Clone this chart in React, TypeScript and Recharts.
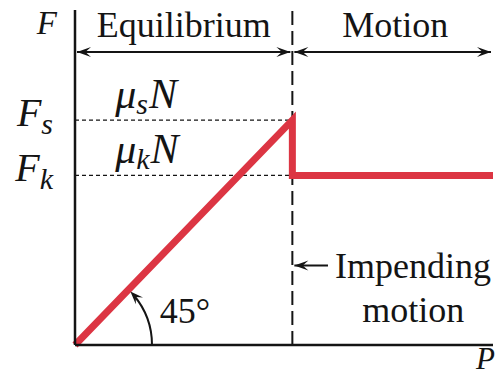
import { LineChart, Line, XAxis, YAxis, ReferenceLine, ReferenceDot } from "recharts";

// friction force F against applied force P
const P_IMPENDING = 5.2;
const F_STATIC = 5.37;
const F_KINETIC = 4.05;
const P_MAX = 10;

const pValues = [0, P_IMPENDING, P_IMPENDING, P_MAX];
const fValues = [0, F_STATIC, F_KINETIC, F_KINETIC];

const levelTicks = [F_KINETIC, F_STATIC];
const levelSubs = ["k", "s"];
const levelCoefs = ["k", "s"];

const data = pValues.map((p, i) => ({ p, f: fValues[i] }));

const SERIF = "Liberation Serif, DejaVu Serif, serif";
const INK = "#141414";
const RED = "#dc3543";

function head(tx: number, ty: number, angle: number, len = 14, half = 5) {
  const c = Math.cos(angle);
  const s = Math.sin(angle);
  const bx = tx - c * len;
  const by = ty - s * len;
  const mx = tx - c * len * 0.6;
  const my = ty - s * len * 0.6;
  return `M${tx},${ty} L${bx - s * half},${by + c * half} L${mx},${my} L${bx + s * half},${by - c * half} Z`;
}

function ArrowShape(props: any) {
  const { x1, y1, x2, y2, startHead, endHead } = props;
  const ang = Math.atan2(y2 - y1, x2 - x1);
  const ax = x1 + Math.cos(ang) * 2;
  const bx = x2 - Math.cos(ang) * 2;
  return (
    <g>
      <line x1={ax} y1={y1} x2={bx} y2={y2} stroke={INK} strokeWidth={2} />
      {startHead && <path d={head(ax, y1, ang + Math.PI)} fill={INK} />}
      {endHead && <path d={head(bx, y2, ang)} fill={INK} />}
    </g>
  );
}

function TextAt(text: string, anchor: "start" | "middle" | "end" = "middle") {
  return (p: any) => (
    <text x={p.cx} y={p.cy} textAnchor={anchor} style={{ fontFamily: SERIF }} fontSize={36} fill={INK}>
      {text}
    </text>
  );
}

function CoefLabel(sub: string) {
  return (p: any) => (
    <text x={p.cx} y={p.cy} style={{ fontFamily: SERIF }} fontStyle="italic" fontSize={42} fill={INK}>
      <tspan>μ</tspan>
      <tspan dy={6} fontSize={30}>{sub}</tspan>
      <tspan dy={-6} dx={1}>N</tspan>
    </text>
  );
}

function AngleArc(p: any) {
  const r = 77;
  const { cx, cy } = p;
  const end = (40 * Math.PI) / 180;
  const tipA = (44 * Math.PI) / 180;
  const ex = cx + r * Math.cos(end);
  const ey = cy - r * Math.sin(end);
  const tx = cx + r * Math.cos(tipA);
  const ty = cy - r * Math.sin(tipA);
  const dir = Math.atan2(-Math.cos(tipA), -Math.sin(tipA));
  return (
    <g>
      <path d={`M${cx + r},${cy} A${r},${r} 0 0 0 ${ex},${ey}`} fill="none" stroke={INK} strokeWidth={2} />
      <path d={head(tx, ty, dir, 13, 5)} fill={INK} />
    </g>
  );
}

function LevelTick(props: any) {
  const { x, y, payload } = props;
  const i = levelTicks.indexOf(payload.value);
  return (
    <text x={x - 14} y={y + 6} textAnchor="end" style={{ fontFamily: SERIF }} fontStyle="italic" fontSize={40} fill={INK}>
      <tspan>F</tspan>
      <tspan dy={8} fontSize={30}>{levelSubs[i]}</tspan>
    </text>
  );
}

export default function App() {
  return (
    <div style={{ position: "absolute", left: 0, top: 0, background: "#fff" }}>
      <LineChart width={500} height={375} data={data} margin={{ top: 10, right: 7, bottom: 0, left: 0 }}>
        <XAxis
          type="number"
          dataKey="p"
          domain={[0, P_MAX]}
          height={30}
          tick={false}
          tickLine={false}
          axisLine={{ stroke: INK, strokeWidth: 2.5 }}
          label={{
            content: ({ viewBox }: any) => (
              <text x={viewBox.x + viewBox.width + 2} y={viewBox.y + 24} textAnchor="end" style={{ fontFamily: SERIF }} fontStyle="italic" fontSize={31} fill={INK}>
                P
              </text>
            ),
          }}
        />
        <YAxis
          type="number"
          domain={[0, 8]}
          width={75}
          ticks={levelTicks}
          tick={<LevelTick />}
          tickLine={false}
          axisLine={{ stroke: INK, strokeWidth: 2.5 }}
          label={{
            content: ({ viewBox }: any) => (
              <text x={viewBox.x + viewBox.width - 18} y={viewBox.y + 24} textAnchor="end" style={{ fontFamily: SERIF }} fontStyle="italic" fontSize={33} fill={INK}>
                F
              </text>
            ),
          }}
        />
        {levelTicks.map((v) => (
          <ReferenceLine
            key={v}
            segment={[{ x: 0, y: v }, { x: P_IMPENDING, y: v }]}
            stroke={INK}
            strokeWidth={1.3}
            strokeDasharray="4 3"
          />
        ))}
        <ReferenceLine x={P_IMPENDING} stroke={INK} strokeWidth={2} strokeDasharray="14 6" />
        <ReferenceLine segment={[{ x: 0, y: 7 }, { x: P_IMPENDING, y: 7 }]} shape={(p: any) => <ArrowShape {...p} startHead endHead />} />
        <ReferenceLine segment={[{ x: P_IMPENDING, y: 7 }, { x: P_MAX, y: 7 }]} shape={(p: any) => <ArrowShape {...p} startHead endHead />} />
        <ReferenceLine segment={[{ x: P_IMPENDING, y: 1.9 }, { x: 6.1, y: 1.9 }]} shape={(p: any) => <ArrowShape {...p} startHead />} />
        <ReferenceDot x={2.6} y={7.36} ifOverflow="visible" shape={TextAt("Equilibrium")} />
        <ReferenceDot x={7.66} y={7.36} ifOverflow="visible" shape={TextAt("Motion")} />
        <ReferenceDot x={6.22} y={1.6} ifOverflow="visible" shape={TextAt("Impending", "start")} />
        <ReferenceDot x={8.09} y={0.55} ifOverflow="visible" shape={TextAt("motion")} />
        <ReferenceDot x={2.03} y={0.53} ifOverflow="visible" shape={TextAt("45°", "start")} />
        {levelTicks.map((v, i) => (
          <ReferenceDot key={"c" + v} x={0.96} y={v + 0.3} ifOverflow="visible" shape={CoefLabel(levelCoefs[i])} />
        ))}
        <ReferenceDot x={0} y={0} ifOverflow="visible" shape={AngleArc} />
        <Line
          type="linear"
          dataKey="f"
          stroke={RED}
          strokeWidth={7}
          strokeLinejoin="miter"
          dot={false}
          activeDot={false}
          isAnimationActive={false}
        />
      </LineChart>
    </div>
  );
}
